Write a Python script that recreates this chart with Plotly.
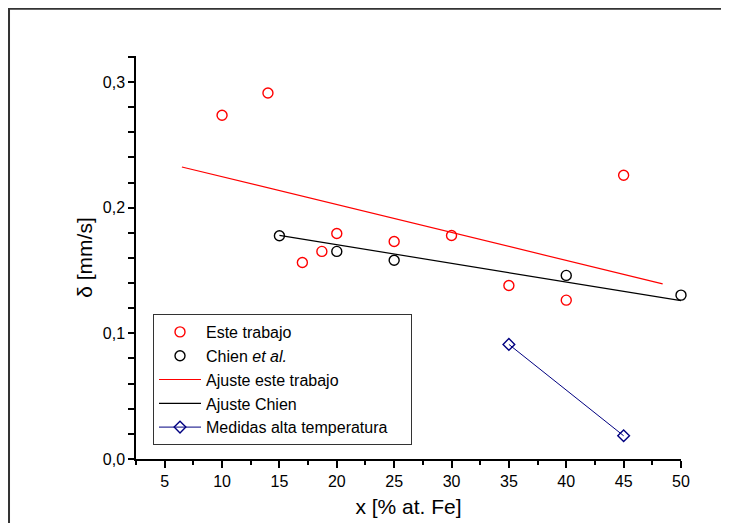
import plotly.graph_objects as go

# Data
este_x = [10, 14, 17, 18.7, 20, 25, 30, 35, 40, 45]
este_y = [0.2735, 0.2913, 0.1564, 0.1652, 0.1795, 0.1731, 0.1779, 0.1381, 0.1264, 0.2258]

chien_x = [15, 20, 25, 40, 50]
chien_y = [0.1776, 0.1652, 0.1582, 0.1461, 0.1304]

fit_este_x = [6.5, 48.4]
fit_este_y = [0.2324, 0.1394]

fit_chien_x = [15, 50]
fit_chien_y = [0.178, 0.126]

alta_x = [35, 45]
alta_y = [0.0912, 0.0185]

FONT = "Liberation Sans, Arial, sans-serif"
PAD = "\u00a0" * 4

fig = go.Figure()
fig.add_trace(go.Scatter(x=este_x, y=este_y, mode="markers", name="Este trabajo",
                         marker=dict(symbol="circle-open", size=10, color="#ff0000",
                                     line=dict(width=1.4, color="#ff0000")),
                         cliponaxis=False))
fig.add_trace(go.Scatter(x=chien_x, y=chien_y, mode="markers", name="Chien <i>et al.</i>",
                         marker=dict(symbol="circle-open", size=10, color="#000000",
                                     line=dict(width=1.4, color="#000000")),
                         cliponaxis=False))
fig.add_trace(go.Scatter(x=fit_este_x, y=fit_este_y, mode="lines", name="Ajuste este trabajo",
                         line=dict(color="#ff0000", width=1.2)))
fig.add_trace(go.Scatter(x=fit_chien_x, y=fit_chien_y, mode="lines", name="Ajuste Chien",
                         line=dict(color="#000000", width=1.2)))
fig.add_trace(go.Scatter(x=alta_x, y=alta_y, mode="lines+markers",
                         name="Medidas alta temperatura" + PAD,
                         line=dict(color="#000080", width=1),
                         marker=dict(symbol="diamond-open", size=9, color="#000080",
                                     line=dict(width=1.4, color="#000080")),
                         cliponaxis=False))

fig.update_layout(
    width=729, height=523,
    margin=dict(l=128, r=56, t=48, b=72),
    paper_bgcolor="white", plot_bgcolor="white",
    separators=", ",
    font=dict(family=FONT, size=16, color="black"),
    showlegend=True,
    legend=dict(x=0.0312, y=0.3598, xanchor="left", yanchor="top",
                bordercolor="#333333", borderwidth=1, bgcolor="white",
                font=dict(family=FONT, size=16, color="black"),
                itemwidth=42),
    xaxis=dict(range=[2.5, 50], showgrid=False, zeroline=False,
               showline=True, linecolor="black", linewidth=1.5,
               ticks="outside", ticklen=7, tickwidth=1.5, tickcolor="black",
               tick0=0, dtick=5,
               minor=dict(ticks="outside", ticklen=4, tickwidth=1.5, tickcolor="black",
                          tick0=0, dtick=2.5),
               tickfont=dict(family=FONT, size=16),
               title=dict(text="x [% at. Fe]", font=dict(family=FONT, size=21), standoff=10)),
    yaxis=dict(range=[0, 0.3207], showgrid=False, zeroline=False,
               showline=True, linecolor="black", linewidth=1.5,
               ticks="outside", ticklen=6, tickwidth=1.5, tickcolor="black",
               tick0=0, dtick=0.1, tickformat=".1f",
               minor=dict(ticks="outside", ticklen=6, tickwidth=1.5, tickcolor="black",
                          tick0=0, dtick=0.02),
               tickfont=dict(family=FONT, size=16),
               title=dict(text="δ [mm/s]", font=dict(family=FONT, size=21), standoff=4)),
    shapes=[dict(type="rect", xref="paper", yref="paper",
                 x0=-0.233, x1=1.3, y0=-0.4, y1=1.117,
                 line=dict(color="#333333", width=2), layer="below")],
)

fig.write_html("out.html")
